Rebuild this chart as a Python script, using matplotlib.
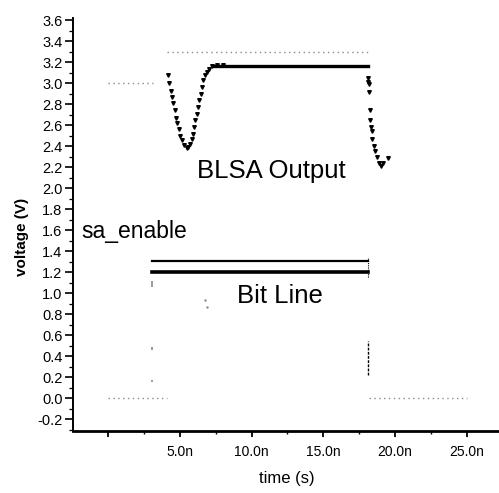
import numpy as np
import matplotlib
matplotlib.use("Agg")
import matplotlib.pyplot as plt
from matplotlib.ticker import MultipleLocator, FixedLocator

plt.rcParams['font.family'] = ['Liberation Sans', 'DejaVu Sans']

# BLSA output: dip after sensing starts (markers)
dip_t = [4.20, 4.27, 4.36, 4.46, 4.55, 4.64, 4.74, 4.83, 4.92, 5.01, 5.15, 5.29,
         5.48, 5.59, 5.71, 5.83, 5.90, 5.99, 6.08, 6.18, 6.27, 6.36, 6.46, 6.55,
         6.64, 6.75, 6.87, 7.01, 7.22, 7.57, 8.00]
dip_v = [3.08, 3.00, 2.93, 2.87, 2.81, 2.74, 2.67, 2.62, 2.56, 2.50, 2.46, 2.41,
         2.38, 2.39, 2.42, 2.47, 2.52, 2.58, 2.65, 2.71, 2.77, 2.84, 2.90, 2.96,
         3.03, 3.08, 3.11, 3.13, 3.16, 3.17, 3.17]
# BLSA output: flat high level
flat_t = [7.4, 18.13]
flat_v = [3.16, 3.16]
# BLSA output: fall after sa_enable goes low
fall_t = [18.11, 18.15, 18.17, 18.20, 18.25, 18.29, 18.36, 18.41, 18.43, 18.52,
          18.59, 18.71, 18.89, 18.99, 19.17, 19.48]
fall_v = [3.05, 3.01, 2.99, 2.92, 2.74, 2.65, 2.58, 2.54, 2.47, 2.40,
          2.35, 2.30, 2.24, 2.21, 2.24, 2.29]

# faint dotted levels (precharge / word line)
pre_t = [0.0, 3.1]
pre_v = [3.0, 3.0]
wl_hi_t = [4.1, 18.1]
wl_hi_v = [3.30, 3.30]
low1_t = [0.0, 4.1]
low1_v = [0.0, 0.0]
low2_t = [18.2, 25.0]
low2_v = [0.0, 0.0]

# sa_enable and bit line
sa_t = [3.06, 18.1]
sa_v = [1.305, 1.305]
bit_t = [3.06, 18.1]
bit_v = [1.20, 1.20]

# transition edges
rise_t = 3.06
rise_lo = [1.06, 0.46, 0.16]
rise_hi = [1.12, 0.49, 0.18]
edge_t = 18.1
edge_lo = [0.22]
edge_hi = [0.55]
stray_t = [6.75, 6.90]
stray_v = [0.94, 0.87]

xticks = [0, 5, 10, 15, 20, 25]
xlabels = ["", "5.0n", "10.0n", "15.0n", "20.0n", "25.0n"]
yticks = np.round(np.arange(-0.2, 3.61, 0.2), 1)

fig = plt.figure(figsize=(4.99, 4.93), dpi=100)
ax = fig.add_axes([73/499, 1 - 431/493, (499 - 73)/499, (431 - 18)/493])

gray = "#8a8a8a"
dots = (0, (1, 2.5))
ax.plot(pre_t, pre_v, color=gray, ls=dots, lw=1)
ax.plot(wl_hi_t, wl_hi_v, color=gray, ls=dots, lw=1)
ax.plot(low1_t, low1_v, color=gray, ls=dots, lw=1)
ax.plot(low2_t, low2_v, color=gray, ls=dots, lw=1)

ax.plot(dip_t, dip_v, ls="none", marker="v", ms=2.6, color="black")
ax.plot(flat_t, flat_v, color="black", lw=2.4)
ax.plot(fall_t, fall_v, ls="none", marker="v", ms=2.6, color="black")

ax.plot(sa_t, sa_v, color="black", lw=1.6)
ax.plot(bit_t, bit_v, color="black", lw=2.6)
ax.vlines([sa_t[-1]], [1.16], [1.34], color="black", lw=0.8, ls=(0, (1, 1)))

ax.vlines([rise_t] * len(rise_lo), rise_lo, rise_hi, color=gray, lw=1.2)
ax.vlines([edge_t], edge_lo, edge_hi, color="black", lw=1, ls=(0, (2, 1)))
ax.plot(stray_t, stray_v, ls="none", marker=".", ms=1.5, color=gray)

ax.text(6.2, 2.095, "BLSA Output", fontsize=18.5, va="baseline", ha="left")
ax.text(-1.88, 1.524, "sa_enable", fontsize=16.5, va="baseline", ha="left")
ax.text(8.98, 0.905, "Bit Line", fontsize=18.5, va="baseline", ha="left")

ax.set_xlim(-2.45, 27.25)
ax.set_ylim(-0.31, 3.62)
ax.xaxis.set_major_locator(FixedLocator(xticks))
ax.set_xticklabels(xlabels)
ax.xaxis.set_minor_locator(MultipleLocator(2.5))
ax.set_yticks(yticks)
ax.set_yticklabels([f"{v:.1f}" for v in yticks])
ax.yaxis.set_minor_locator(MultipleLocator(0.1))

for s in ["top", "right"]:
    ax.spines[s].set_visible(False)
ax.spines["left"].set_linewidth(1.4)
ax.spines["bottom"].set_linewidth(2)

ax.tick_params(axis="x", which="major", direction="out", length=4.5, width=1.3,
               pad=5.5, labelsize=10)
ax.tick_params(axis="x", which="minor", direction="out", length=2.2, width=1)
ax.tick_params(axis="y", which="major", direction="out", length=6, width=1.2,
               pad=1.5, labelsize=10.5)
ax.tick_params(axis="y", which="minor", direction="out", length=3, width=0.9)

fig.text(22/499, 1 - 236.5/493, "voltage (V)", rotation=90, ha="center", va="center",
         fontsize=11, fontweight="bold")
fig.text(287/499, 1 - 479/493, "time (s)", ha="center", va="center", fontsize=12)

fig.savefig("out.png", dpi=100)
